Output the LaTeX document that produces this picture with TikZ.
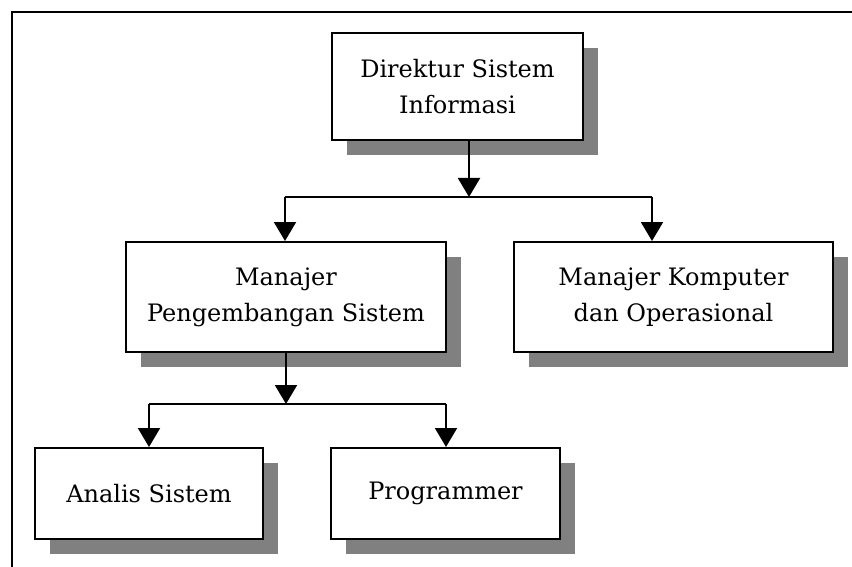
\documentclass[tikz,border=0pt]{standalone}
\usepackage{fontspec}
\setmainfont{DejaVu Serif}
\usetikzlibrary{arrows.meta,shadows}
\tikzset{
  orgbox/.style={draw=black, line width=2pt, fill=white, align=center,
    inner sep=0pt, font=\fontsize{24}{36}\selectfont,
    drop shadow={shadow xshift=15pt, shadow yshift=-15pt, fill=shadegray, opacity=1}},
  link/.style={draw=black, line width=2pt},
  tolink/.style={link, -{Triangle[length=19pt, width=22pt]}},
}
\definecolor{shadegray}{HTML}{808080}
\begin{document}
\begin{tikzpicture}[x=1pt, y=-1pt]
  \useasboundingbox (0,0) rectangle (852,567);

  % outer frame (top and left edges)
  \draw[line width=2pt] (11.5,567) -- (11.5,12.5) -- (852,12.5);

  % boxes
  \node[orgbox, minimum width=251pt, minimum height=107pt] (dir) at (457.5,86.5)
    {Direktur Sistem\\Informasi};
  \node[orgbox, minimum width=320pt, minimum height=110pt] (mps) at (286,297)
    {Manajer\\Pengembangan Sistem};
  \node[orgbox, minimum width=319pt, minimum height=110pt] (mko) at (673.5,297)
    {Manajer Komputer\\dan Operasional};
  \node[orgbox, minimum width=228pt, minimum height=91pt] (ana) at (149,493.5)
    {Analis Sistem};
  \node[orgbox, minimum width=229pt, minimum height=91pt] (prg) at (445.5,493.5)
    {Programmer};

  % junction points of the branching lines
  \coordinate (j1) at (469,197);
  \coordinate (b1l) at (285,197);
  \coordinate (b1r) at (652,197);
  \coordinate (j2) at (286,404);
  \coordinate (b2l) at (149,404);
  \coordinate (b2r) at (446,404);

  % first level
  \draw[tolink] (dir.south -| j1) -- (j1);
  \draw[link] (b1l) -- (b1r);
  \draw[tolink] (b1l) -- (mps.north -| b1l);
  \draw[tolink] (b1r) -- (mko.north -| b1r);

  % second level
  \draw[tolink] (mps.south -| j2) -- (j2);
  \draw[link] (b2l) -- (b2r);
  \draw[tolink] (b2l) -- (ana.north -| b2l);
  \draw[tolink] (b2r) -- (prg.north -| b2r);
\end{tikzpicture}
\end{document}
